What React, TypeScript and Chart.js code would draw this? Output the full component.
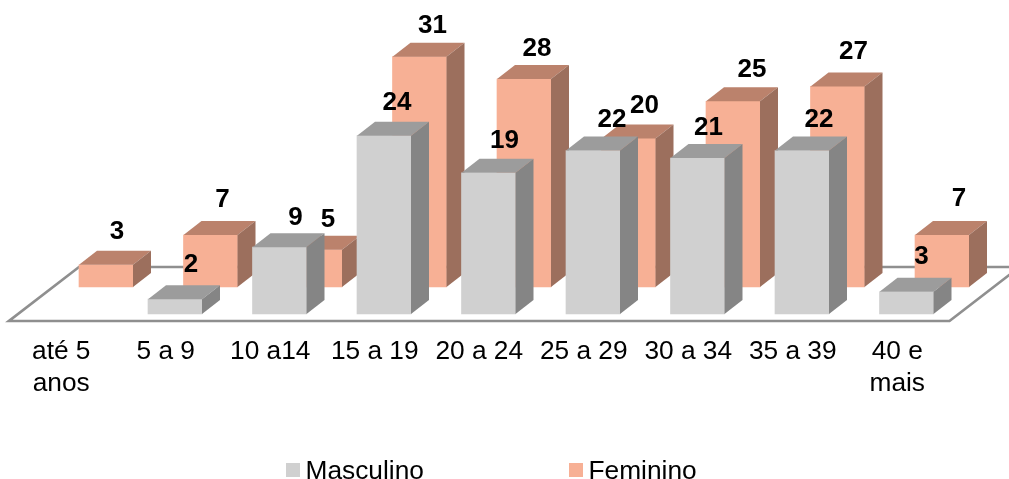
import React, { useEffect, useRef } from "react";
import { Chart, registerables } from "chart.js";

Chart.register(...registerables);

const ageGroups: (string | string[])[] = [
  ["até 5", "anos"],
  "5 a 9",
  "10 a14",
  "15 a 19",
  "20 a 24",
  "25 a 29",
  "30 a 34",
  "35 a 39",
  ["40 e", "mais"],
];
const masculino = [null, 2, 9, 24, 19, 22, 21, 22, 3];
const feminino = [3, 7, 5, 31, 28, 20, 25, 27, 7];

// Hand placement of the value captions, relative to the default spot above a column.
const captionNudgeMasculino = [[0, 0], [2, -1], [2, 4], [-1, 0], [2, 1], [5, 2], [-3, 3], [3, 2], [1, -2]];
const captionNudgeFeminino = [[-3, 0], [-2, -2], [-1, 3], [-1, 2], [-1, 3], [2, 0], [5, 2], [2, -2], [3, -3]];

const FONT = '"Liberation Sans", Arial, sans-serif';
const STEP = 104.5;
const AREA_LEFT = 9;
const AREA_RIGHT = 949.5;
const AREA_BOTTOM = 314;
const UNIT = 7.43;
const DEPTH_X = 18;
const DEPTH_Y = 14;

const shades: Record<string, { top: string; side: string; nudge: number[][] }> = {
  Masculino: { top: "#9c9c9c", side: "#858585", nudge: captionNudgeMasculino },
  Feminino: { top: "#bb826c", side: "#9c6f5d", nudge: captionNudgeFeminino },
};

const polygon = (ctx: CanvasRenderingContext2D, pts: number[][], fill: string) => {
  ctx.beginPath();
  pts.forEach(([x, y], i) => (i ? ctx.lineTo(x, y) : ctx.moveTo(x, y)));
  ctx.closePath();
  ctx.fillStyle = fill;
  ctx.fill();
};

// Oblique floor under both rows of columns.
const floorPlugin = {
  id: "floor",
  beforeDatasetsDraw(chart: any) {
    const { ctx, scales } = chart;
    const front = scales.y.getPixelForValue(0) + 7;
    const back = scales.yBack.getPixelForValue(0) - 20;
    const left = scales.x.left;
    const right = scales.x.right;
    ctx.save();
    ctx.beginPath();
    ctx.moveTo(left, front);
    ctx.lineTo(right, front);
    ctx.lineTo(right + 70, back);
    ctx.lineTo(left + 70, back);
    ctx.closePath();
    ctx.strokeStyle = "#8f8f8f";
    ctx.lineWidth = 2.7;
    ctx.stroke();
    ctx.restore();
  },
};

// Top and side faces of each column, painted right after its dataset's front faces.
const depthPlugin = {
  id: "depth",
  afterDatasetDraw(chart: any, args: any) {
    const { ctx } = chart;
    const dataset = chart.data.datasets[args.index];
    const shade = shades[dataset.label];
    ctx.save();
    args.meta.data.forEach((bar: any, i: number) => {
      if (dataset.data[i].y == null) return;
      const { x, y, base, width } = bar.getProps(["x", "y", "base", "width"], true);
      const l = x - width / 2;
      const r = x + width / 2;
      polygon(ctx, [[l, y], [r, y], [r + DEPTH_X, y - DEPTH_Y], [l + DEPTH_X, y - DEPTH_Y]], shade.top);
      polygon(ctx, [[r, y], [r + DEPTH_X, y - DEPTH_Y], [r + DEPTH_X, base - DEPTH_Y], [r, base]], shade.side);
    });
    ctx.restore();
  },
};

// Bold value captions, above every column.
const valuePlugin = {
  id: "values",
  afterDatasetsDraw(chart: any) {
    const { ctx } = chart;
    ctx.save();
    ctx.font = `bold 26px ${FONT}`;
    ctx.fillStyle = "#000";
    ctx.textAlign = "center";
    ctx.textBaseline = "middle";
    chart.data.datasets.forEach((dataset: any, d: number) => {
      const nudge = shades[dataset.label].nudge;
      chart.getDatasetMeta(d).data.forEach((bar: any, i: number) => {
        const value = dataset.data[i].y;
        if (value == null) return;
        const { x, y } = bar.getProps(["x", "y"], true);
        ctx.fillText(String(value), x + 14 + nudge[i][0], y - 33 + nudge[i][1]);
      });
    });
    ctx.restore();
  },
};

// Legend with wide spacing between the two entries.
const legendPlugin = {
  id: "wideLegend",
  afterDraw(chart: any) {
    const { ctx } = chart;
    const starts = [286, 569];
    ctx.save();
    ctx.font = `26.3px ${FONT}`;
    ctx.textAlign = "left";
    ctx.textBaseline = "middle";
    chart.data.datasets.forEach((dataset: any, d: number) => {
      ctx.fillStyle = dataset.backgroundColor;
      ctx.fillRect(starts[d], 463, 14, 14);
      ctx.fillStyle = "#000";
      ctx.fillText(dataset.label, starts[d] + 19.5, 471.5);
    });
    ctx.restore();
  },
};

export default function App() {
  const ref = useRef<HTMLCanvasElement>(null);

  useEffect(() => {
    const toPoints = (values: (number | null)[]) => values.map((y, x) => ({ x, y }));
    const span = (center: number) => ({
      min: (AREA_LEFT - center) / STEP,
      max: (AREA_RIGHT - center) / STEP,
    });

    const chart = new Chart(ref.current!, {
      type: "bar",
      data: {
        labels: ageGroups,
        datasets: [
          {
            label: "Masculino",
            data: toPoints(masculino),
            backgroundColor: "#d0d0d0",
            xAxisID: "xFront",
            yAxisID: "y",
            barThickness: 54,
            grouped: false,
            order: 1,
            clip: false,
          },
          {
            label: "Feminino",
            data: toPoints(feminino),
            backgroundColor: "#f7b095",
            xAxisID: "xBack",
            yAxisID: "yBack",
            barThickness: 54,
            grouped: false,
            order: 2,
            clip: false,
          },
        ] as any,
      },
      options: {
        animation: false,
        responsive: false,
        layout: { padding: { left: AREA_LEFT, right: 1009 - AREA_RIGHT, top: 0, bottom: 0 } },
        plugins: { legend: { display: false }, tooltip: { enabled: false } },
        scales: {
          x: {
            type: "category",
            offset: true,
            grid: { display: false },
            border: { display: false },
            afterFit: (scale: any) => {
              scale.height = 479 - AREA_BOTTOM;
            },
            ticks: {
              autoSkip: false,
              maxRotation: 0,
              padding: 14,
              color: "#000",
              font: { family: FONT, size: 26.3, lineHeight: 1.22 },
            },
          },
          xFront: { type: "linear", display: false, offset: false, ...span(70.5) },
          xBack: { type: "linear", display: false, offset: false, ...span(106) },
          y: { display: false, min: 0, max: AREA_BOTTOM / UNIT },
          yBack: { display: false, min: -27 / UNIT, max: (AREA_BOTTOM - 27) / UNIT },
        },
      } as any,
      plugins: [floorPlugin, depthPlugin, valuePlugin, legendPlugin],
    });
    return () => chart.destroy();
  }, []);

  return (
    <div style={{ position: "fixed", left: 0, top: 0, width: 1009, height: 479, background: "#fff" }}>
      <canvas ref={ref} width={1009} height={479} style={{ display: "block" }} />
    </div>
  );
}
